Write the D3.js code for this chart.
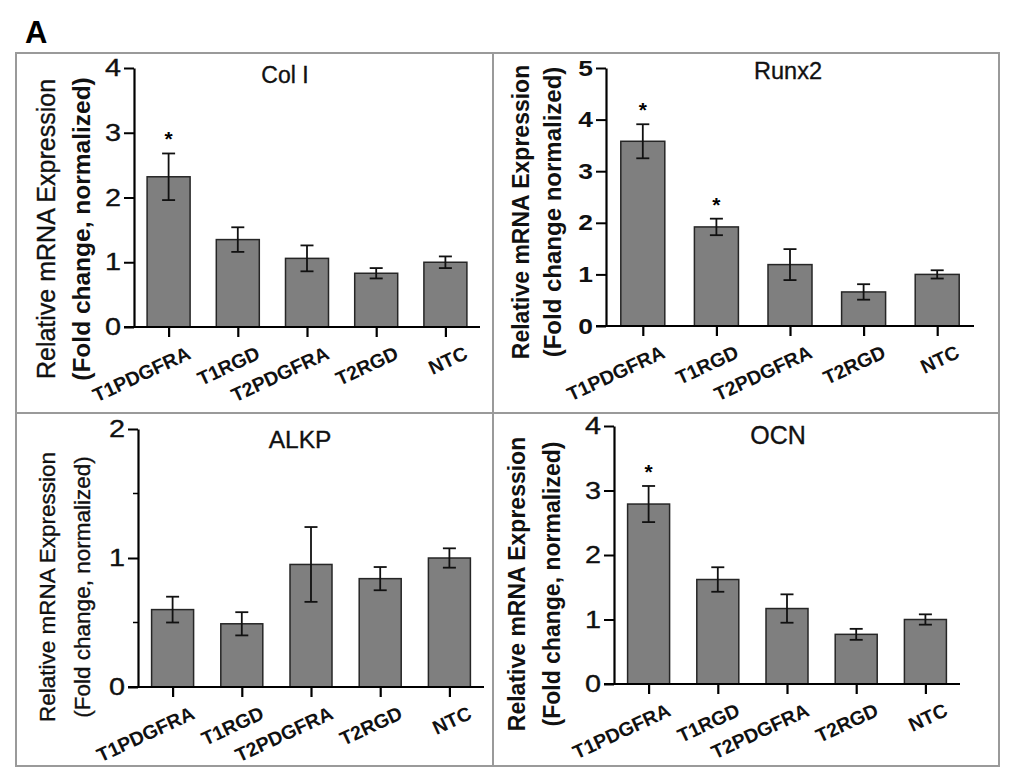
<!DOCTYPE html>
<html>
<head>
<meta charset="utf-8">
<script src="https://cdn.jsdelivr.net/npm/d3@7"></script>
<style>
  body { margin: 0; background: #fff; }
  svg { display: block; font-family: "Liberation Sans", Arial, sans-serif; }
</style>
</head>
<body>
<svg id="chart" width="1024" height="777"></svg>
<script>
// groups on the x axis (same for every panel)
const groups = ["T1PDGFRA", "T1RGD", "T2PDGFRA", "T2RGD", "NTC"];

// Col I
const colIMean = [2.32, 1.35, 1.06, 0.83, 1.0];
const colIErr  = [0.36, 0.19, 0.20, 0.08, 0.09];
const colIStar = [1, 0, 0, 0, 0];

// Runx2
const runx2Mean = [3.58, 1.92, 1.19, 0.66, 1.0];
const runx2Err  = [0.33, 0.16, 0.30, 0.15, 0.08];
const runx2Star = [1, 1, 0, 0, 0];

// ALKP
const alkpMean = [0.60, 0.49, 0.95, 0.84, 1.0];
const alkpErr  = [0.10, 0.09, 0.29, 0.09, 0.075];
const alkpStar = [0, 0, 0, 0, 0];

// OCN
const ocnMean = [2.79, 1.62, 1.17, 0.77, 1.0];
const ocnErr  = [0.28, 0.19, 0.22, 0.085, 0.08];
const ocnStar = [1, 0, 0, 0, 0];

// y tick values
const colITicks  = [0, 1, 2, 3, 4];
const runx2Ticks = [0, 1, 2, 3, 4, 5];
const alkpTicks  = [0, 1, 2];
const alkpMinor  = [0.5, 1.5];
const ocnTicks   = [0, 1, 2, 3, 4];

const yLabel1 = "Relative mRNA Expression";
const yLabel2 = "(Fold change, normalized)";
const yLabel2Runx = "(Fold change normalized)";


var svg = d3.select("#chart");

/*** frame round the four panels ***/
svg.append("rect")
  .attr("x", 16).attr("y", 53)
  .attr("width", 983).attr("height", 713)
  .attr("fill", "none").attr("stroke", "#9a9a9a").attr("stroke-width", 2);
svg.append("line").attr("x1", 493).attr("x2", 493).attr("y1", 53).attr("y2", 766)
  .attr("stroke", "#9a9a9a").attr("stroke-width", 2);
svg.append("line").attr("x1", 16).attr("x2", 999).attr("y1", 413).attr("y2", 413)
  .attr("stroke", "#9a9a9a").attr("stroke-width", 2);

svg.append("text")
  .attr("x", 25).attr("y", 43)
  .attr("font-size", 31).attr("font-weight", "bold")
  .text("A");


var panels = [
  { title: "Col I", mean: colIMean, err: colIErr, star: colIStar,
    max: 4, ticks: colITicks, minor: [],
    x0: 134, x1: 480, y0: 327, y1: 68, barW: 43,
    tickFont: 24, tickBold: false,
    titleX: 285, titleY: 83, titleSize: 23,
    lab: [yLabel1, yLabel2], labX: [46, 81], labY: 229, labSize: [25, 24.5], labBold: [false, true] },
  { title: "Runx2", mean: runx2Mean, err: runx2Err, star: runx2Star,
    max: 5, ticks: runx2Ticks, minor: [],
    x0: 606, x1: 974, y0: 326, y1: 68, barW: 44,
    tickFont: 22, tickBold: true,
    titleX: 788, titleY: 79, titleSize: 23.5,
    lab: [yLabel1, yLabel2Runx], labX: [521, 553], labY: 212, labSize: [23, 24], labBold: [true, true] },
  { title: "ALKP", mean: alkpMean, err: alkpErr, star: alkpStar,
    max: 2, ticks: alkpTicks, minor: alkpMinor,
    x0: 138, x1: 484, y0: 687, y1: 429, barW: 42,
    tickFont: 24, tickBold: false,
    titleX: 300, titleY: 448, titleSize: 24.5,
    lab: [yLabel1, yLabel2], labX: [47, 82], labY: 587, labSize: [22.5, 22.5], labBold: [false, false] },
  { title: "OCN", mean: ocnMean, err: ocnErr, star: ocnStar,
    max: 4, ticks: ocnTicks, minor: [],
    x0: 614, x1: 960, y0: 684, y1: 426, barW: 42,
    tickFont: 24, tickBold: false,
    titleX: 778, titleY: 444, titleSize: 25,
    lab: [yLabel1, yLabel2], labX: [517, 552], labY: 584, labSize: [23, 23], labBold: [true, true] }
];

panels.forEach(drawPanel);


// the scan is a little heavier than clean vector text
function thicken(sel, bold) {
  if (!bold) {
    sel.attr("stroke", "#111").attr("stroke-width", 0.35);
  }
}


function drawPanel(p) {
  var g = svg.append("g");

  var x = d3.scalePoint().domain(groups).range([p.x0, p.x1]).padding(0.5);
  var y = d3.scaleLinear().domain([0, p.max]).range([p.y0, p.y1]);

  var rows = groups.map(function(name, i) {
    return { name: name, mean: p.mean[i], err: p.err[i], star: p.star[i] };
  });

  // bars
  g.selectAll("rect.bar")
    .data(rows)
    .enter()
      .append("rect")
      .attr("class", "bar")
      .attr("x", function(d) { return x(d.name) - p.barW / 2; })
      .attr("width", p.barW)
      .attr("y", function(d) { return y(d.mean); })
      .attr("height", function(d) { return y(0) - y(d.mean); })
      .attr("fill", "#7f7f7f")
      .attr("stroke", "#262626")
      .attr("stroke-width", 1.5);

  // error bars
  var eb = g.selectAll("g.err")
    .data(rows)
    .enter()
      .append("g")
      .attr("class", "err")
      .attr("stroke", "#111")
      .attr("stroke-width", 1.8);

  eb.append("line")
    .attr("x1", function(d) { return x(d.name); })
    .attr("x2", function(d) { return x(d.name); })
    .attr("y1", function(d) { return y(d.mean + d.err); })
    .attr("y2", function(d) { return y(d.mean - d.err); });
  [1, -1].forEach(function(s) {
    eb.append("line")
      .attr("x1", function(d) { return x(d.name) - 6.5; })
      .attr("x2", function(d) { return x(d.name) + 6.5; })
      .attr("y1", function(d) { return y(d.mean + s * d.err); })
      .attr("y2", function(d) { return y(d.mean + s * d.err); });
  });

  // significance stars
  g.selectAll("text.star")
    .data(rows.filter(function(d) { return d.star; }))
    .enter()
      .append("text")
      .attr("class", "star")
      .attr("x", function(d) { return x(d.name); })
      .attr("y", function(d) { return y(d.mean + d.err) - 7; })
      .attr("text-anchor", "middle")
      .attr("font-size", 21)
      .attr("font-weight", "bold")
      .text("*");

  // y axis
  var ya = g.append("g")
    .attr("transform", "translate(" + x.range()[0] + ",0)")
    .call(d3.axisLeft(y).tickValues(p.ticks).tickSize(10).tickSizeOuter(0).tickPadding(3).tickFormat(d3.format("d")));
  ya.select(".domain").attr("stroke-width", 2.2);
  ya.selectAll(".tick line").attr("stroke-width", 2);
  var yt = ya.selectAll(".tick text")
    .attr("font-family", '"Liberation Sans", Arial, sans-serif')
    .attr("font-size", p.tickFont)
    .attr("font-weight", p.tickBold ? "bold" : "normal")
    .attr("fill", "#111");
  thicken(yt, p.tickBold);
  // digits in the scan are wider than the font's own
  yt.each(function() {
    var w = this.getComputedTextLength();
    d3.select(this).attr("textLength", w * 1.2).attr("lengthAdjust", "spacingAndGlyphs");
  });

  // minor ticks
  g.selectAll("line.minor")
    .data(p.minor)
    .enter()
      .append("line")
      .attr("x1", x.range()[0] - 5)
      .attr("x2", x.range()[0])
      .attr("y1", function(d) { return y(d); })
      .attr("y2", function(d) { return y(d); })
      .attr("stroke", "#000")
      .attr("stroke-width", 1.5);

  // x axis
  var xa = g.append("g")
    .attr("transform", "translate(0," + y(0) + ")")
    .call(d3.axisBottom(x).tickSize(10).tickSizeOuter(0));
  xa.select(".domain").remove();
  xa.append("line")
    .attr("x1", x.range()[0] - 10)
    .attr("x2", x.range()[1])
    .attr("stroke", "#000")
    .attr("stroke-width", 2.2);
  xa.selectAll(".tick line").attr("stroke-width", 2.2);
  xa.selectAll(".tick text")
    .attr("font-family", '"Liberation Sans", Arial, sans-serif')
    .attr("font-size", 19.5)
    .attr("font-weight", "bold")
    .attr("fill", "#111")
    .attr("text-anchor", "end")
    .attr("y", 0)
    .attr("dy", 0)
    .attr("transform", "translate(23,31) rotate(-25)");

  // title
  var tt = g.append("text")
    .attr("x", p.titleX)
    .attr("y", p.titleY)
    .attr("text-anchor", "middle")
    .attr("font-size", p.titleSize)
    .attr("fill", "#111")
    .text(p.title);
  thicken(tt, false);

  // y label, two lines
  p.lab.forEach(function(t, i) {
    var lt = g.append("text")
      .attr("transform", "translate(" + p.labX[i] + "," + p.labY + ") rotate(-90)")
      .attr("dy", "0.35em")
      .attr("text-anchor", "middle")
      .attr("font-size", p.labSize[i])
      .attr("font-weight", p.labBold[i] ? "bold" : "normal")
      .attr("fill", "#111")
      .text(t);
    thicken(lt, p.labBold[i]);
  });
}
</script>
</body>
</html>
